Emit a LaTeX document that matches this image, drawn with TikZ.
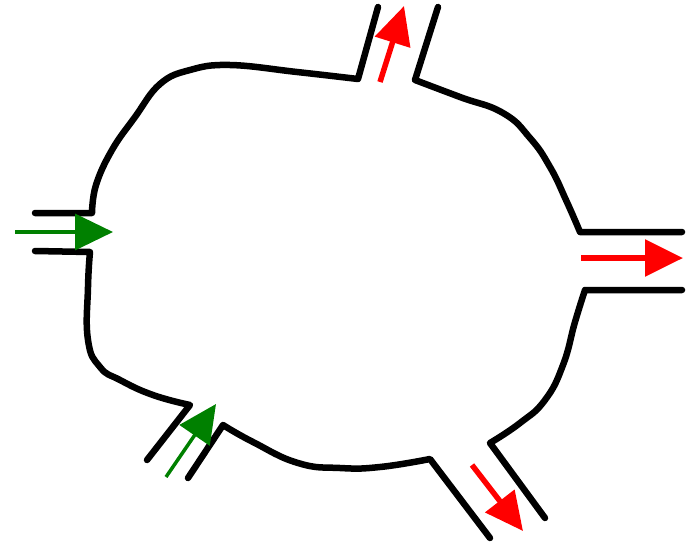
\documentclass[tikz,border=0pt]{standalone}
\usepackage{tikz}
\usetikzlibrary{arrows.meta}
\definecolor{ingreen}{HTML}{008000}
\definecolor{outred}{HTML}{FF0000}
\tikzset{
  wall/.style={draw=black,line width=6.5pt,line join=round,line cap=round},
  inflow/.style={-{Triangle[length=38pt,width=36pt]},draw=ingreen,fill=ingreen,line width=3.5pt},
  outflow/.style={-{Triangle[length=38pt,width=36pt]},draw=outred,fill=outred,line width=5.5pt}
}
\begin{document}
\begin{tikzpicture}[x=1pt,y=-1pt]
\useasboundingbox (0,0) rectangle (691,544);

% port ends
\coordinate (lfrom) at (15,232);
\coordinate (lto) at (113,232);
\coordinate (tfrom) at (380,82);
\coordinate (tto) at (404,6);
\coordinate (rfrom) at (581,258);
\coordinate (rto) at (683,258);
\coordinate (blfrom) at (166,477);
\coordinate (blto) at (216,404);
\coordinate (brfrom) at (472,465);
\coordinate (brto) at (523,531);

% vessel wall
\draw[wall] (35,213) -- (92,213) -- plot[smooth,tension=0.7] coordinates
  {(92,213) (96,185) (112,150) (135,117) (160,84) (190,70) (230,65) (297,72) (358,79)}
  -- (378,7);
\draw[wall] (438,7) -- (415,80) -- plot[smooth,tension=0.8] coordinates
  {(415,80) (460,97) (503,113) (530,138) (550,167) (566,200) (580,232)}
  -- (682,232);
\draw[wall] (682,290) -- (585,290) -- plot[smooth,tension=0.8] coordinates
  {(585,290) (575,322) (563,365) (545,400) (520,423) (490,443)}
  -- (545,518);
\draw[wall] (490,538) -- (430,459) -- plot[smooth,tension=0.8] coordinates
  {(430,459) (380,467) (340,468) (298,463) (253,442) (223,425)}
  -- (188,478);
\draw[wall] (147,460) -- (190,405) -- plot[smooth,tension=0.8] coordinates
  {(190,405) (153,395) (120,380) (100,367) (88,340) (88,287) (90,252)}
  -- (35,251);

% flows
\draw[inflow] (lfrom) -- (lto);
\draw[inflow] (blfrom) -- (blto);
\draw[outflow] (tfrom) -- (tto);
\draw[outflow] (rfrom) -- (rto);
\draw[outflow] (brfrom) -- (brto);
\end{tikzpicture}
\end{document}
